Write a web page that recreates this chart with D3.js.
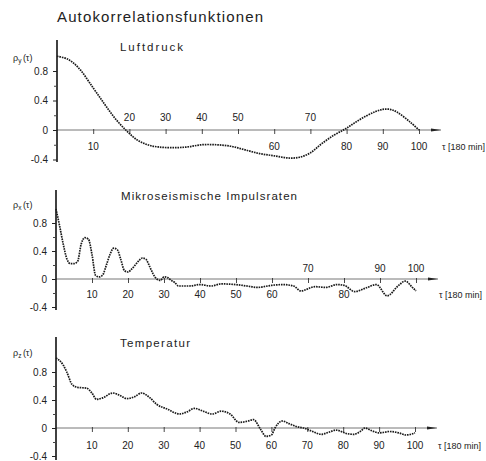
<!DOCTYPE html>
<html>
<head>
<meta charset="utf-8">
<script src="https://cdn.jsdelivr.net/npm/d3@7/dist/d3.min.js"></script>
<style>
  html, body { margin: 0; padding: 0; background: #fff; }
  svg { display: block; }
  text { font-family: "Liberation Sans", "DejaVu Sans", sans-serif; fill: #222; }
</style>
</head>
<body>
<svg id="chart" width="486" height="461"></svg>
<script>
// Lags (units of 180 min) and autocorrelation values for each series
const lagsY = [0, 3, 6, 10, 13, 16, 19, 22, 25, 28, 32, 36, 40, 44, 48, 52, 56, 60, 64, 67, 70, 73, 76.5, 79.5, 82, 85, 88, 90, 92, 94, 97.5, 100];
const rhoY  = [1.0, 0.96, 0.84, 0.57, 0.36, 0.16, 0.0, -0.13, -0.2, -0.23, -0.24, -0.23, -0.2, -0.2, -0.22, -0.27, -0.32, -0.35, -0.38, -0.37, -0.31, -0.19, -0.07, 0.01, 0.09, 0.18, 0.25, 0.28, 0.28, 0.24, 0.11, 0.0];

const lagsX = [0, 1, 2, 3, 4, 5, 6, 7, 8, 9, 10, 11, 12, 13, 14, 15, 16, 17, 18, 19, 20, 21, 22, 23, 24, 25, 26, 27, 28, 29, 30, 31, 32, 33, 34, 37, 40, 43, 46, 50, 53, 56, 60, 63, 66, 68, 72, 75, 78, 80, 83, 86, 89, 92, 95, 97, 99, 100];
const rhoX  = [1.0, 0.76, 0.5, 0.29, 0.22, 0.22, 0.25, 0.5, 0.59, 0.57, 0.35, 0.05, 0.03, 0.06, 0.2, 0.35, 0.44, 0.42, 0.28, 0.12, 0.1, 0.14, 0.2, 0.26, 0.3, 0.28, 0.18, 0.07, 0.0, -0.02, 0.03, 0.02, -0.02, -0.05, -0.1, -0.1, -0.08, -0.1, -0.07, -0.08, -0.1, -0.12, -0.09, -0.08, -0.1, -0.17, -0.11, -0.12, -0.08, -0.09, -0.18, -0.13, -0.08, -0.24, -0.1, -0.03, -0.12, -0.17];

const lagsZ = [0, 2, 3, 4.5, 6, 8.5, 10, 11.3, 13, 15.8, 18, 19.7, 22, 23.8, 26, 28, 31, 34.4, 36.5, 38.6, 41, 43.5, 46, 48.5, 51, 53.5, 55, 57, 58.5, 60, 61, 63, 65, 67, 69, 71, 74, 76, 78, 81, 83, 85, 86, 88, 90, 93, 95.5, 97.5, 100];
const rhoZ  = [1.0, 0.9, 0.8, 0.62, 0.58, 0.57, 0.5, 0.41, 0.43, 0.5, 0.46, 0.42, 0.45, 0.5, 0.44, 0.34, 0.27, 0.2, 0.23, 0.28, 0.24, 0.2, 0.24, 0.2, 0.08, 0.1, 0.12, -0.02, -0.12, -0.1, 0.0, 0.1, 0.06, 0.02, 0.0, -0.04, -0.09, -0.06, -0.03, -0.08, -0.09, -0.04, 0.0, -0.04, -0.07, -0.05, -0.07, -0.1, -0.07];

// Axis tick labels
const lagTicks = [10, 20, 30, 40, 50, 60, 70, 80, 90, 100];
const rhoTicks = [-0.4, 0, 0.4, 0.8];
const rhoMinorTicks = [-0.2, 0.2, 0.6];

const chartTitle = "Autokorrelationsfunktionen";
const panelTitles = ["Luftdruck", "Mikroseismische  Impulsraten", "Temperatur"];
const rhoNames = ["y", "x", "z"];
const lagsAbove = [[20, 30, 40, 50, 70], [70, 90, 100], []];
const axisName = "τ [180 min]";

const series = [
  { lags: lagsY, rho: rhoY, curve: d3.curveCatmullRom.alpha(0.5) },
  { lags: lagsX, rho: rhoX, curve: d3.curveMonotoneX },
  { lags: lagsZ, rho: rhoZ, curve: d3.curveMonotoneX }
];

// Panel geometry
const layout = [
  { x0: 57, x1: 419, zeroY: 130, unit: 73.75, top: 40, bottom: 162, titleX: 120, titleY: 51, titleW: 63,
    nameY: 61, above: 121, below: 150 },
  { x0: 56, x1: 416, zeroY: 279, unit: 70, top: 190, bottom: 310, titleX: 121, titleY: 200, titleW: 176,
    nameY: 208, above: 272, below: 298 },
  { x0: 56, x1: 415, zeroY: 428, unit: 70, top: 337, bottom: 460, titleX: 120, titleY: 347, titleW: 70,
    nameY: 356, above: 421, below: 449 }
];

const svg = d3.select("#chart");

svg.append("text")
  .attr("x", 57).attr("y", 22)
  .attr("font-size", 15)
  .attr("textLength", 206).attr("lengthAdjust", "spacing")
  .text(chartTitle);

const defs = svg.append("defs");
defs.append("marker")
  .attr("id", "arrow").attr("viewBox", "0 0 10 6")
  .attr("refX", 10).attr("refY", 3)
  .attr("markerWidth", 10).attr("markerHeight", 6)
  .attr("markerUnits", "userSpaceOnUse")
  .attr("orient", "auto")
  .append("path").attr("d", "M0,1.5 L10,3 L0,4.5 Z").attr("fill", "#222");

layout.forEach((L, i) => {
  const s = series[i];
  const x = d3.scaleLinear().domain([0, 100]).range([L.x0, L.x1]);
  const y = d3.scaleLinear().domain([0, 1]).range([L.zeroY, L.zeroY - L.unit]);
  const g = svg.append("g");

  // panel title
  g.append("text")
    .attr("x", L.titleX).attr("y", L.titleY)
    .attr("font-size", 11.5)
    .attr("textLength", L.titleW).attr("lengthAdjust", "spacing")
    .text(panelTitles[i]);

  // rho label
  const nm = g.append("text").attr("x", 13).attr("y", L.nameY).attr("font-size", 9);
  nm.append("tspan").text("ρ");
  nm.append("tspan").attr("font-size", 6.5).attr("dy", 2).text(rhoNames[i]);
  nm.append("tspan").attr("dy", -2).attr("dx", 1.5).text("(τ)");

  // lag axis with arrow
  g.append("line")
    .attr("x1", x(0)).attr("x2", x(100) + 22)
    .attr("y1", y(0)).attr("y2", y(0))
    .attr("stroke", "#666").attr("stroke-width", 0.9)
    .attr("marker-end", "url(#arrow)");

  const xAxis = d3.axisBottom(x).tickValues(lagTicks).tickSize(5).tickFormat("");
  const ax = g.append("g").attr("transform", `translate(0,${y(0) - 1})`).call(xAxis);
  ax.select(".domain").remove();
  ax.selectAll("line").attr("stroke", "#333").attr("stroke-width", 0.9);

  lagTicks.forEach(t => {
    const up = lagsAbove[i].includes(t);
    g.append("text")
      .attr("x", x(t)).attr("y", up ? L.above : L.below)
      .attr("text-anchor", "middle").attr("font-size", 10)
      .attr("fill", "#333")
      .text(t);
  });

  g.append("text")
    .attr("x", x(100) + 23).attr("y", L.below)
    .attr("font-size", 9).attr("fill", "#222")
    .text(axisName);

  // rho axis
  g.append("line")
    .attr("x1", x(0)).attr("x2", x(0))
    .attr("y1", L.top).attr("y2", L.bottom)
    .attr("stroke", "#111").attr("stroke-width", 1.6);

  const yAxis = d3.axisLeft(y).tickValues(rhoTicks).tickSize(4)
    .tickFormat(d => d === 0 ? "0" : (d < 0 ? "-" : "") + d3.format(".1f")(Math.abs(d)));
  const ay = g.append("g").attr("transform", `translate(${x(0)},0)`).call(yAxis);
  ay.select(".domain").remove();
  ay.selectAll("line").attr("stroke", "#222");
  ay.selectAll("text").attr("font-size", 10).attr("fill", "#333")
    .attr("font-family", "\"Liberation Sans\", sans-serif").attr("x", -9);

  const yMinor = d3.axisLeft(y).tickValues(rhoMinorTicks).tickSize(3).tickFormat("");
  const am = g.append("g").attr("transform", `translate(${x(0)},0)`).call(yMinor);
  am.select(".domain").remove();
  am.selectAll("line").attr("stroke", "#444");

  // correlation curve
  const line = d3.line()
    .x((d, k) => x(s.lags[k]))
    .y(d => y(d))
    .curve(s.curve);

  g.append("path")
    .datum(s.rho)
    .attr("d", line)
    .attr("fill", "none")
    .attr("stroke", "#1a1a1a")
    .attr("stroke-width", 1.7)
    .attr("stroke-dasharray", "1.6,0.9");
});
</script>
</body>
</html>
